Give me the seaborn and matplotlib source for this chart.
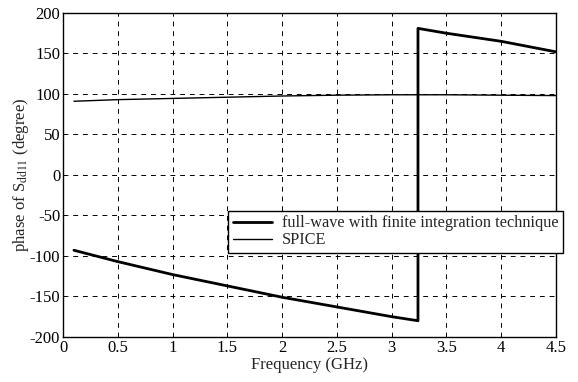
import matplotlib
matplotlib.use("Agg")
import matplotlib.pyplot as plt
import seaborn as sns
import numpy as np

sns.set_style("white")
plt.rcParams['font.family'] = ['Liberation Serif', 'DejaVu Serif']
plt.rcParams['mathtext.fontset'] = 'stix'
plt.rcParams['axes.unicode_minus'] = False

# Full-wave (wrapped phase)
fw_freq = [0.1, 0.5, 1.0, 1.5, 2.0, 2.5, 3.0, 3.24, 3.24, 3.5, 4.0, 4.5]
fw_phase = [-93, -107, -123, -137, -151, -163, -175, -180, 181, 175, 165, 152]

# SPICE
sp_freq = [0.1, 0.5, 1.0, 1.5, 2.0, 2.5, 3.0, 3.5, 4.0, 4.5]
sp_phase = [91, 93, 94.5, 96, 97.5, 98.5, 99, 99, 98.5, 98]

xticks = [0, 0.5, 1, 1.5, 2, 2.5, 3, 3.5, 4, 4.5]
xticklabels = ["0", "0.5", "1", "1.5", "2", "2.5", "3", "3.5", "4", "4.5"]
yticks = [-200, -150, -100, -50, 0, 50, 100, 150, 200]

fig = plt.figure(figsize=(5.78, 3.82), dpi=100)
ax = fig.add_axes([0.109, 0.118, 0.853, 0.848])

sns.lineplot(x=fw_freq, y=fw_phase, estimator=None, sort=False, ax=ax,
             color="black", linewidth=2.0, label="full-wave with finite integration technique")
sns.lineplot(x=sp_freq, y=sp_phase, estimator=None, sort=False, ax=ax,
             color="black", linewidth=1.0, label="SPICE")

ax.set_xlim(0, 4.5)
ax.set_ylim(-200, 200)
ax.set_xticks(xticks)
ax.set_xticklabels(xticklabels)
ax.set_yticks(yticks)
ax.grid(True, color="black", linestyle=(0, (5, 5)), linewidth=0.7)
for s in ax.spines.values():
    s.set_color("black")
    s.set_linewidth(1.0)
ax.tick_params(axis='both', direction='in', length=3, labelsize=12, colors='black', pad=2)

ax.set_xlabel("Frequency (GHz)", fontsize=12, labelpad=1)
ax.set_ylabel(r"phase of S$_{\mathrm{dd11}}$ (degree)", fontsize=12, labelpad=-1)

leg = ax.legend(loc="upper left", bbox_to_anchor=(0.335, 0.39), fontsize=11.7,
                frameon=True, fancybox=False, edgecolor="black", framealpha=1,
                borderpad=0.3, labelspacing=0.05, handlelength=2.4,
                handletextpad=0.6, borderaxespad=0)
leg.get_frame().set_linewidth(1.0)

fig.savefig("out.png", dpi=100)
